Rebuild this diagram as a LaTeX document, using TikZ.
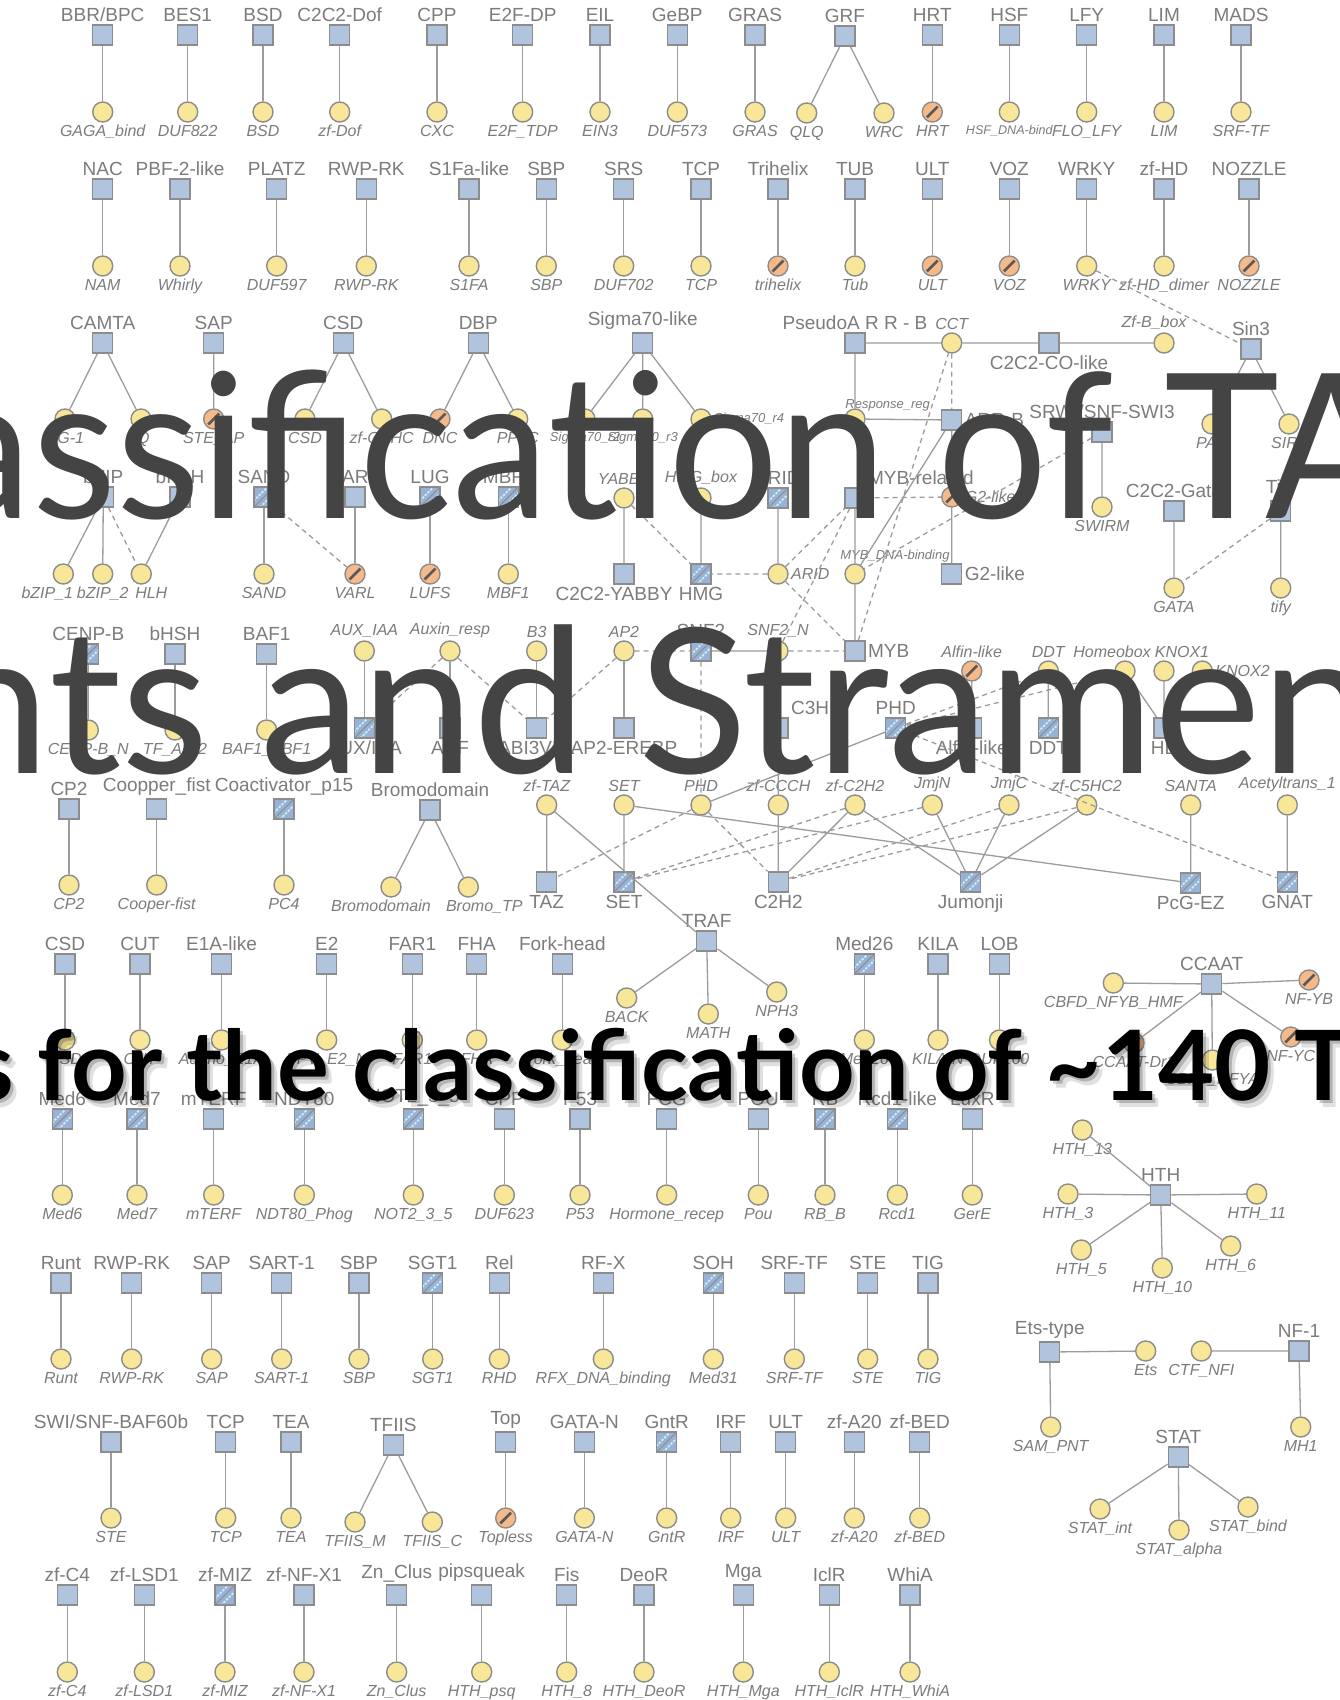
\documentclass[tikz,border=0pt]{standalone}
\usepackage{fontspec}
\setmainfont{Liberation Sans}
\newfontfamily\bigfont{Lato}
\usetikzlibrary{positioning}

\definecolor{sqblue}{HTML}{B0C4DE}
\definecolor{hblue}{HTML}{98B2D6}
\definecolor{stripe}{HTML}{CBEFFA}
\definecolor{dotyel}{HTML}{F8E699}
\definecolor{dotorg}{HTML}{F6B98A}
\definecolor{rim}{HTML}{8C8C8C}
\definecolor{lnk}{HTML}{9C9C9C}
\definecolor{labg}{HTML}{7C7C7C}
\definecolor{bigg}{HTML}{444444}

\tikzset{
  fam/.style={rectangle, draw=rim, fill=sqblue, line width=0.7pt, minimum size=10pt, inner sep=0pt},
  hfam/.style={fam, fill=hblue, path picture={
      \draw[stripe, line width=0.9pt, dash pattern=on 1.2pt off 0.7pt]
        ([shift={(1.6pt,-1.6pt)}]path picture bounding box.south west) -- ([shift={(1.6pt,-1.6pt)}]path picture bounding box.north east);
      \draw[stripe, line width=0.9pt, dash pattern=on 1.2pt off 0.7pt]
        ([shift={(-1.6pt,1.6pt)}]path picture bounding box.south west) -- ([shift={(-1.6pt,1.6pt)}]path picture bounding box.north east);
      \draw[rim, line width=0.5pt] (path picture bounding box.south west) -- (path picture bounding box.north east);}},
  dom/.style={circle, draw=rim, fill=dotyel, line width=0.7pt, minimum size=10pt, inner sep=0pt},
  odom/.style={dom, fill=dotorg, path picture={
      \draw[line width=1.3pt, black!65] ([shift={(-2.7pt,-2.7pt)}]path picture bounding box.center) -- ([shift={(2.7pt,2.7pt)}]path picture bounding box.center);}},
  flab/.style={font=\fontsize{9.5}{11}\selectfont, text=labg, inner sep=1pt},
  dlab/.style={font=\fontsize{8}{9}\selectfont\itshape, text=labg, inner sep=1pt},
  slab/.style={font=\fontsize{6.5}{7}\selectfont\itshape, text=labg, inner sep=1pt},
  link/.style={draw=lnk, line width=0.65pt},
  dlink/.style={link, dash pattern=on 2.5pt off 2pt},
  big/.style={font=\bigfont\fontsize{101}{106}\selectfont, text=bigg, inner sep=0pt},
  bigb/.style={font=\bigfont\bfseries\fontsize{48.5}{52}\selectfont, text=black, inner sep=0pt},
}

% one row of family (square) -> domain (circle) pairs
\newcommand{\famrow}[4]{%
  \foreach \px/\fm/\dm/\st/\ct [count=\i] in {#4} {
    \node[\st, label={[flab]above:\fm}] (#1\i) at (\px,#2) {};
    \node[\ct, label={[dlab]below:\dm}] (#1\i d) at (\px,#3) {};
    \draw[link] (#1\i) -- (#1\i d);
  }}

\begin{document}
\begin{tikzpicture}[x=0.5pt, y=-0.5pt]
  \fill[white] (0,0) rectangle (1339,1700);
  \useasboundingbox (0,0) rectangle (1339,1700);

  % first row
  \famrow{ra}{35}{112}{102.7/{BBR/BPC}/GAGA\_bind/fam/dom, 187.7/BES1/DUF822/fam/dom,
    263/BSD/BSD/fam/dom, 339.7/C2C2-Dof/zf-Dof/fam/dom, 437/CPP/CXC/fam/dom,
    522.7/E2F-DP/E2F\_TDP/fam/dom, 600/EIL/EIN3/fam/dom, 677.3/GeBP/DUF573/fam/dom,
    755/GRAS/GRAS/fam/dom, 932.3/HRT/HRT/fam/odom,
    1009.3/HSF/{\fontsize{6.3}{7}\selectfont HSF\_DNA-bind}/fam/dom,
    1086.7/LFY/FLO\_LFY/fam/dom, 1164/LIM/LIM/fam/dom, 1241/MADS/SRF-TF/fam/dom}
  \node[fam, label={[flab]above:GRF}] (grf) at (845,36) {};
  \node[dom, label={[dlab]below:QLQ}] (qlq) at (806.7,113) {};
  \node[dom, label={[dlab]below:WRC}] (wrc) at (884,113) {};
  \draw[link] (grf) -- (qlq) (grf) -- (wrc);

  % second row
  \famrow{rb}{189}{266}{102.7/NAC/NAM/fam/dom, 180/PBF-2-like/Whirly/fam/dom,
    276.7/PLATZ/DUF597/fam/dom, 366.3/RWP-RK/RWP-RK/fam/dom, 469/S1Fa-like/S1FA/fam/dom,
    546.3/SBP/SBP/fam/dom, 623.7/SRS/DUF702/fam/dom, 701/TCP/TCP/fam/dom,
    778/Trihelix/trihelix/fam/odom, 855/TUB/Tub/fam/dom, 932.3/ULT/ULT/fam/odom,
    1009.3/VOZ/VOZ/fam/odom, 1086.7/WRKY/WRKY/fam/dom, 1164/zf-HD/zf-HD\_dimer/fam/dom,
    1249/NOZZLE/NOZZLE/fam/odom}

  % families with several domains
  \node[fam, label={[flab]above:CAMTA}] (camta) at (102.7,343) {};
  \node[dom, label={[dlab]below:CG-1}] (cg1) at (65,419) {};
  \node[dom, label={[dlab]below:IQ}] (iq) at (141,419) {};
  \node[fam, label={[flab]above:SAP}] (sap) at (213.7,343) {};
  \node[odom, label={[dlab]below:STE\_AP}] (steap) at (213.7,419) {};
  \node[fam, label={[flab]above:CSD}] (csd) at (343.3,343) {};
  \node[dom, label={[dlab]below:CSD}] (csdd) at (305,419) {};
  \node[dom, label={[dlab]below:zf-CCHC}] (zfcchc) at (381.7,419) {};
  \node[fam, label={[flab]above:DBP}] (dbp) at (478.3,343) {};
  \node[odom, label={[dlab]below:DNC}] (dnc) at (440,419) {};
  \node[dom, label={[dlab]below:PP2C}] (pptwoc) at (517.7,419) {};
  \node[fam, label={[flab]above:Sigma70-like}] (sigma) at (642.7,343) {};
  \node[dom, label={[slab]below:Sigma70\_r2}] (sigr2) at (585,419) {};
  \node[dom, label={[slab]below:Sigma70\_r3}] (sigr3) at (642.7,419) {};
  \node[dom, label={[slab]right:Sigma70\_r4}] (sigr4) at (701,419) {};
  \draw[link] (camta) -- (cg1) (camta) -- (iq) (sap) -- (steap) (csd) -- (csdd) (csd) -- (zfcchc)
    (dbp) -- (dnc) (dbp) -- (pptwoc) (sigma) -- (sigr2) (sigma) -- (sigr3) (sigma) -- (sigr4);

  \node[fam, label={[flab]above:bZIP}] (bzip) at (103.3,497) {};
  \node[fam, label={[flab]above:bHLH}] (bhlh) at (180,497) {};
  \node[dom, label={[dlab, xshift=-8pt]below:bZIP\_1}] (bzip1) at (63.3,574) {};
  \node[dom, label={[dlab]below:bZIP\_2}] (bzip2) at (102.7,574) {};
  \node[dom, label={[dlab, xshift=5pt]below:HLH}] (hlhd) at (141.3,574) {};
  \draw[link] (bzip) -- (bzip1) (bzip) -- (bzip2) (bhlh) -- (hlhd);
  \draw[dlink] (bzip) -- (hlhd);
  \famrow{rd}{497}{574}{264/SAND/SAND/hfam/dom, 355/VARL/VARL/fam/odom,
    430/LUG/LUFS/hfam/odom, 508.3/MBF1/MBF1/hfam/dom}
  \draw[dlink] (rd1) -- (rd2d);

  \famrow{re}{654}{730}{88.3/CENP-B/CENP-B\_N/hfam/dom, 175/bHSH/TF\_AP-2/fam/dom,
    266.7/BAF1/BAF1\_ABF1/fam/dom}
  \famrow{rc}{809}{885}{69/CP2/CP2/fam/dom, 156.7/Coopper\_fist/Cooper-fist/fam/dom,
    284/Coactivator\_p15/PC4/hfam/dom}
  \node[fam, label={[flab]above:Bromodomain}] (bromo) at (430,810) {};
  \node[dom, label={[dlab, xshift=-5pt]below:Bromodomain}] (bromod) at (391,887) {};
  \node[dom, label={[dlab, xshift=8pt]below:Bromo\_TP}] (bromotp) at (468.3,887) {};
  \draw[link] (bromo) -- (bromod) (bromo) -- (bromotp);

  % circles above, squares below
  \foreach \px/\fm/\dm/\st/\nm in {364.3/{AUX/IAA}/AUX\_IAA/hfam/aux, 450/ARF/Auxin\_resp/fam/arf,
      536.7/ABI3VP1/B3/fam/abi, 624/AP2-EREBP/AP2/fam/ap2} {
    \node[dom, label={[dlab]above:\dm}] (\nm d) at (\px,651) {};
    \node[\st, label={[flab]below:\fm}] (\nm) at (\px,728) {};
    \draw[link] (\nm d) -- (\nm);
  }

  % central network
  \node[fam, label={[flab]above:PseudoA R R - B}] (parrb) at (855,343) {};
  \node[dom, label={[dlab]above:CCT}] (cct) at (951.7,343) {};
  \node[fam, label={[flab]below:C2C2-CO-like}] (colike) at (1049,343) {};
  \node[dom, label={[dlab, xshift=-5pt]above:Zf-B\_box}] (zfbbox) at (1164,343) {};
  \node[fam, label={[flab]above:Sin3}] (sin3) at (1251,349) {};
  \node[dom, label={[dlab]below:PAH}] (pah) at (1212,424) {};
  \node[dom, label={[dlab]below:SIR2}] (sir2) at (1289,424) {};
  \node[dom] (respreg) at (855,419) {};
  \node[slab, anchor=south west] (resplab) at (843,414) {Response\_reg};
  \node[fam, label={[flab]right:ARR-B}] (arrb) at (951.7,420) {};
  \node[fam, label={[flab]above:SRWI/SNF-SWI3}] (swi3) at (1102,432) {};
  \node[dom, label={[dlab]below:SWIRM}] (swirm) at (1102,507) {};
  \node[odom, label={[dlab]right:G2-like}] (gtwod) at (951.7,497) {};
  \node[fam, label={[flab]right:G2-like}] (gtwo) at (951.7,574) {};
  \node[fam, label={[flab]above right:MYB-related}] (mybrel) at (855,498) {};
  \node[dom] (mybdna) at (855,574) {};
  \node[slab, anchor=west] (mybdnalab) at (838,556) {MYB\_DNA-binding};
  \node[fam, label={[flab]right:MYB}] (myb) at (855,651) {};
  \node[hfam, label={[flab]above:ARID}] (arid) at (778,498) {};
  \node[dom, label={[dlab]right:ARID}] (aridd) at (778,574) {};
  \node[dom, label={[dlab]above:HMG\_box}] (hmgbox) at (701,498) {};
  \node[hfam, label={[flab]below:HMG}] (hmg) at (701,574) {};
  \node[dom, label={[dlab]above:YABBY}] (yabbyd) at (624,498) {};
  \node[fam, label={[flab, xshift=-5pt]below:C2C2-YABBY}] (yabby) at (624,574) {};
  \node[dom, label={[dlab]above:SNF2\_N}] (snf2n) at (778,651) {};
  \node[hfam, label={[flab]above:SNF2}] (snf2) at (701,651) {};
  \node[fam, label={[flab]above right:C3H}] (c3h) at (778,728) {};
  \node[hfam, label={[flab]above:PHD}] (phd) at (895.7,728) {};
  \node[odom, label={[dlab]above:Alfin-like}] (alfind) at (971.7,671) {};
  \node[fam, label={[flab]below:Alfin-like}] (alfin) at (971.7,728) {};
  \node[dom, label={[dlab]above:DDT}] (ddtd) at (1048.3,671) {};
  \node[hfam, label={[flab]below:DDT}] (ddt) at (1048.3,728) {};
  \node[dom, label={[dlab, xshift=-6.5pt]above:Homeobox}] (hbox) at (1125,671) {};
  \node[dom, label={[dlab, xshift=9pt]above:KNOX1}] (knox1) at (1164,671) {};
  \node[dom, label={[dlab]right:KNOX2}] (knox2) at (1202.3,671) {};
  \node[fam, label={[flab]below:HB}] (hb) at (1164,728) {};
  \node[fam, label={[flab]above:C2C2-Gata}] (cgata) at (1174,511) {};
  \node[dom, label={[dlab]below:GATA}] (gata) at (1174,588) {};
  \node[fam, label={[flab]above:Tify}] (tify) at (1280.7,511) {};
  \node[dom, label={[dlab]below:tify}] (tifyd) at (1280.7,588) {};

  \node[dom, label={[dlab]above:zf-TAZ}] (ztaz) at (546.7,805) {};
  \node[fam, label={[flab]below:TAZ}] (taz) at (546.7,882) {};
  \node[dom, label={[dlab]above:SET}] (setd) at (624,805) {};
  \node[hfam, label={[flab]below:SET}] (set) at (624,882) {};
  \node[dom, label={[dlab]above:PHD}] (phdd) at (701,805) {};
  \node[dom, label={[dlab]above:zf-CCCH}] (ccch) at (778.3,805) {};
  \node[fam, label={[flab]below:C2H2}] (c2h2) at (778.3,882) {};
  \node[dom, label={[dlab]above:zf-C2H2}] (zc2h2) at (855,805) {};
  \node[dom, label={[dlab]above:JmjN}] (jmjn) at (932.3,805) {};
  \node[dom, label={[dlab]above:JmjC}] (jmjc) at (1009,805) {};
  \node[dom, label={[dlab]above:zf-C5HC2}] (c5hc2) at (1086.7,805) {};
  \node[hfam, label={[flab]below:Jumonji}] (jumonji) at (970.7,882) {};
  \node[dom, label={[dlab]above:SANTA}] (santa) at (1190.7,805) {};
  \node[hfam, label={[flab]below:PcG-EZ}] (pcg) at (1190.7,883) {};
  \node[dom, label={[dlab]above:Acetyltrans\_1}] (acetyl) at (1287.3,805) {};
  \node[hfam, label={[flab]below:GNAT}] (gnat) at (1287.3,882) {};
  \node[fam, label={[flab]above:TRAF}] (traf) at (706.7,941) {};
  \node[dom, label={[dlab]below:BACK}] (back) at (626.7,998) {};
  \node[dom, label={[dlab]below:MATH}] (math) at (708.3,1014) {};
  \node[dom, label={[dlab]below:NPH3}] (nph3) at (776.7,992) {};

  % solid links
  \draw[link] (parrb) -- (cct) (cct) -- (colike) (colike) -- (zfbbox) (parrb) -- (respreg)
    (respreg) -- (arrb) (arrb) -- (gtwod) (gtwod) -- (gtwo) (arrb) -- (mybdna) (swi3) -- (swirm)
    (sin3) -- (pah) (sin3) -- (sir2) (mybrel) -- (mybdna) (mybdna) -- (myb) (arid) -- (aridd)
    (hmgbox) -- (hmg) (yabbyd) -- (yabby) (snf2n) -- (snf2) (c3h) -- (ccch) (phd) -- (phdd)
    (alfind) -- (alfin) (ddtd) -- (ddt) (hbox) -- (hb) (knox1) -- (hb) (knox2) -- (hb)
    (cgata) -- (gata) (tify) -- (tifyd);
  \draw[link] (ztaz) -- (taz) (ztaz) -- (traf) (setd) -- (set) (setd) -- (pcg) (ccch) -- (c2h2)
    (zc2h2) -- (c2h2) (zc2h2) -- (jumonji) (jmjn) -- (jumonji) (jmjc) -- (jumonji)
    (c5hc2) -- (jumonji) (santa) -- (pcg) (acetyl) -- (gnat) (traf) -- (back) (traf) -- (math)
    (traf) -- (nph3);
  % dashed links
  \draw[dlink] (cct) -- (arrb) (rb13d) -- (sin3) (mybrel) -- (gtwod) (swi3) -- (mybdna)
    (yabbyd) -- (hmg) (aridd) -- (hmg) (aridd) -- (mybrel) (snf2n) -- (mybrel) (aridd) -- (myb)
    (snf2n) -- (myb) (myb) -- (cct) (ap2d) -- (snf2) (snf2) -- (phdd) (arfd) -- (abi)
    (ap2d) -- (abi) (arfd) -- (aux) (phd) -- (ddtd) (phd) -- (hbox) (phd) -- (gnat)
    (tify) -- (gata);
  \draw[dlink] (phdd) -- (taz) (phdd) -- (c2h2) (zc2h2) -- (set) (jmjn) -- (set)
    (jmjc) -- (c2h2) (c5hc2) -- (c2h2);

  % lower rows
  \famrow{rf}{964}{1040}{65/CSD/CSD/fam/dom, 140/CUT/CUT/fam/dom, 221.5/E1A-like/Adeno\_E1A/fam/dom,
    326.7/E2/PPV\_E2\_N/fam/dom, 412.3/FAR1/FAR1/fam/dom, 476.7/FHA/FHA/fam/dom,
    562.3/Fork-head/Fork\_head/fam/dom, 864.3/Med26/Med26/hfam/dom, 938/KILA/KILA-N/fam/dom,
    999.5/LOB/DUF260/fam/dom}
  \famrow{rg}{1119}{1195}{62.3/Med6/Med6/hfam/dom, 137/Med7/Med7/hfam/dom, 213.7/mTERF/mTERF/fam/dom,
    304.3/NDT80/NDT80\_Phog/hfam/dom, 413.3/NOT2\_3\_5/NOT2\_3\_5/hfam/dom, 504.3/CPP/DUF623/fam/dom,
    580/P53/P53/fam/dom, 666.7/FCG/Hormone\_recep/fam/dom, 758.3/POU/Pou/fam/dom,
    825/RB/RB\_B/hfam/dom, 897.3/Rcd1-like/Rcd1/hfam/dom, 972.3/LuxR/GerE/fam/dom}
  \famrow{rh}{1283}{1359}{61/Runt/Runt/fam/dom, 131.7/RWP-RK/RWP-RK/fam/dom, 211.7/SAP/SAP/fam/dom,
    281.7/SART-1/SART-1/fam/dom, 359/SBP/SBP/fam/dom, 432.7/SGT1/SGT1/hfam/dom,
    499.3/Rel/RHD/fam/dom, 603.3/RF-X/RFX\_DNA\_binding/fam/dom, 713.3/SOH/Med31/hfam/dom,
    794.3/SRF-TF/SRF-TF/fam/dom, 867.7/STE/STE/fam/dom, 928/TIG/TIG/fam/dom}
  \famrow{ri}{1442}{1518}{111/{SWI/SNF-BAF60b}/STE/fam/dom, 225.7/TCP/TCP/fam/dom, 291/TEA/TEA/fam/dom,
    505.7/Top/Topless/fam/odom, 584.3/GATA-N/GATA-N/fam/dom, 666.7/GntR/GntR/hfam/dom,
    730.7/IRF/IRF/fam/dom, 785.7/ULT/ULT/fam/dom, 854.3/zf-A20/zf-A20/fam/dom,
    919.7/zf-BED/zf-BED/fam/dom}
  \node[fam, label={[flab]above:TFIIS}] (tfiis) at (393.3,1445) {};
  \node[dom, label={[dlab]below:TFIIS\_M}] (tfiism) at (355,1522) {};
  \node[dom, label={[dlab]below:TFIIS\_C}] (tfiisc) at (432.3,1522) {};
  \draw[link] (tfiis) -- (tfiism) (tfiis) -- (tfiisc);
  \famrow{rj}{1595}{1672}{67.3/zf-C4/zf-C4/fam/dom, 144.3/zf-LSD1/zf-LSD1/fam/dom,
    225/zf-MIZ/zf-MIZ/hfam/dom, 304/zf-NF-X1/zf-NF-X1/fam/dom, 396.7/Zn\_Clus/Zn\_Clus/fam/dom,
    481.7/pipsqueak/HTH\_psq/fam/dom, 566.7/Fis/HTH\_8/fam/dom, 644/DeoR/HTH\_DeoR/fam/dom,
    743.3/Mga/HTH\_Mga/fam/dom, 829.3/IclR/HTH\_IclR/fam/dom, 910/WhiA/HTH\_WhiA/fam/dom}

  % right side clusters
  \node[fam, label={[flab]above:CCAAT}] (ccaat) at (1211.7,984) {};
  \node[dom, label={[dlab]below:CBFD\_NFYB\_HMF}] (cbfd) at (1113.3,983) {};
  \node[odom, label={[dlab]below:NF-YB}] (nfyb) at (1309,980) {};
  \node[odom, label={[dlab]below:CCAAT-Dr1}] (ccdr) at (1134,1043) {};
  \node[dom, label={[dlab]below:CBFB\_NFYA}] (cbfb) at (1212.3,1060) {};
  \node[odom, label={[dlab]below:NF-YC}] (nfyc) at (1290.7,1037) {};
  \draw[link] (ccaat) -- (cbfd) (ccaat) -- (nfyb) (ccaat) -- (ccdr) (ccaat) -- (cbfb) (ccaat) -- (nfyc);

  \node[fam, label={[flab]above:HTH}] (hth) at (1160.7,1195) {};
  \node[dom, label={[dlab]below:HTH\_13}] (hth13) at (1082.3,1130) {};
  \node[dom, label={[dlab]below:HTH\_3}] (hth3) at (1068,1194) {};
  \node[dom, label={[dlab]below:HTH\_11}] (hth11) at (1256.7,1194) {};
  \node[dom, label={[dlab]below:HTH\_5}] (hth5) at (1081.3,1250) {};
  \node[dom, label={[dlab]below:HTH\_10}] (hth10) at (1162.3,1268) {};
  \node[dom, label={[dlab]below:HTH\_6}] (hth6) at (1230.7,1246) {};
  \draw[link] (hth) -- (hth13) (hth) -- (hth3) (hth) -- (hth11) (hth) -- (hth5) (hth) -- (hth10) (hth) -- (hth6);

  \node[fam, label={[flab]above:Ets-type}] (ets) at (1049.7,1352) {};
  \node[dom, label={[dlab]below:Ets}] (etsd) at (1145.7,1351) {};
  \node[dom, label={[dlab]below:SAM\_PNT}] (sampnt) at (1050.7,1427) {};
  \node[fam, label={[flab]above:NF-1}] (nfone) at (1299,1351) {};
  \node[dom, label={[dlab]below:CTF\_NFI}] (ctf) at (1201.3,1351) {};
  \node[dom, label={[dlab]below:MH1}] (mhone) at (1300.7,1427) {};
  \draw[link] (ets) -- (etsd) (ets) -- (sampnt) (nfone) -- (ctf) (nfone) -- (mhone);

  \node[fam, label={[flab]above:STAT}] (stat) at (1178.3,1457) {};
  \node[dom, label={[dlab]below:STAT\_int}] (statint) at (1100,1509) {};
  \node[dom, label={[dlab]below:STAT\_alpha}] (statalpha) at (1179,1530) {};
  \node[dom, label={[dlab]below:STAT\_bind}] (statbind) at (1248,1507) {};
  \draw[link] (stat) -- (statint) (stat) -- (statalpha) (stat) -- (statbind);

  % slide title lying over the graph
  \node[big, anchor=base west] (titleA) at (452,518)
    {\scalebox{0.965}[1]{\llap{Classific}ation of TAPs in}};
  \node[big, anchor=base west] (titleB) at (638,773) {\llap{Plants and }Stramenopiles};
  \node[bigb, text=black, opacity=0.12, anchor=base west] (titleCs) at (43,1107)
    {\llap{Rules }for the classification of \textasciitilde140 TAP families};
  \node[bigb, text=black, opacity=0.2, anchor=base west] (titleCt) at (40,1103)
    {\llap{Rules }for the classification of \textasciitilde140 TAP families};
  \node[bigb, anchor=base west] (titleC) at (37,1100)
    {\llap{Rules }for the classification of \textasciitilde140 TAP families};
\end{tikzpicture}
\end{document}
